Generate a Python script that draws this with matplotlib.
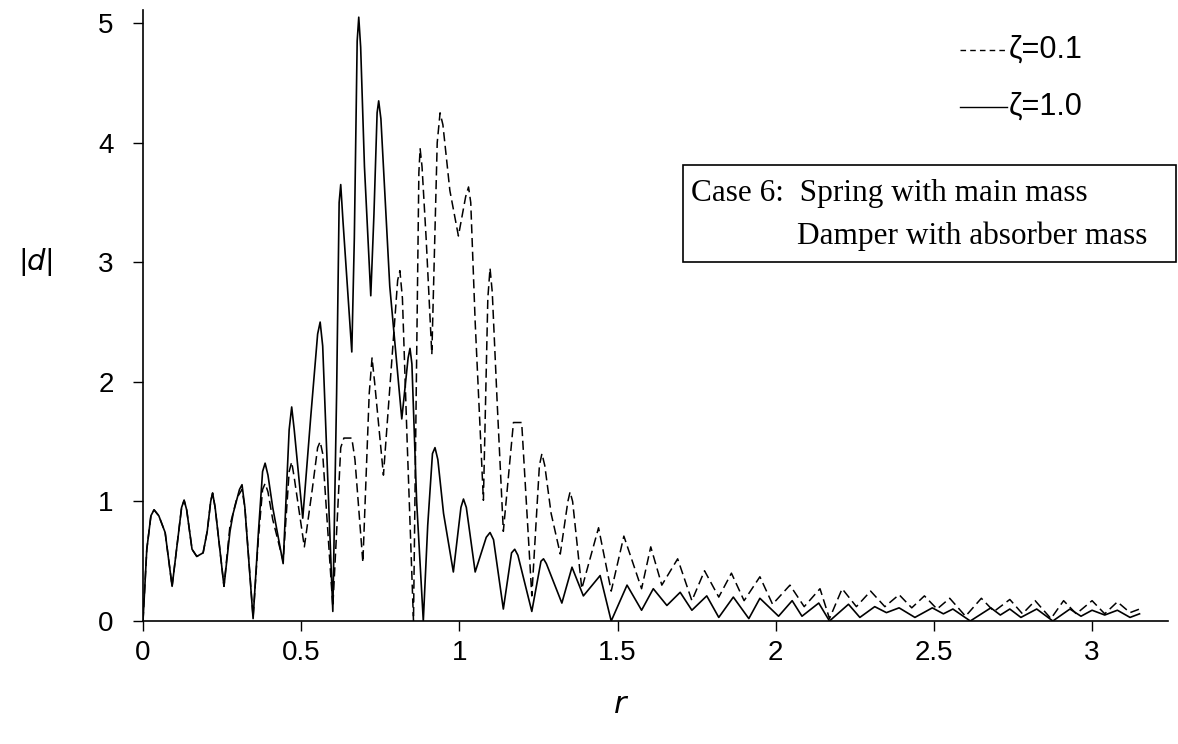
import matplotlib
matplotlib.use("Agg")
import matplotlib.pyplot as plt
from matplotlib.patches import Rectangle
from matplotlib.lines import Line2D

# zeta = 1.0 (solid)
r_z10 = [0.0, 0.012, 0.025, 0.035, 0.05, 0.07, 0.092, 0.113, 0.122, 0.13, 0.138, 0.155,
         0.17, 0.19, 0.203, 0.214, 0.22, 0.228, 0.256, 0.275, 0.285, 0.305, 0.313, 0.322,
         0.348, 0.365, 0.378, 0.386, 0.395, 0.41, 0.443, 0.462, 0.47, 0.478, 0.505, 0.53,
         0.552, 0.56, 0.568, 0.60, 0.612, 0.62, 0.625, 0.632, 0.66, 0.668, 0.677, 0.682,
         0.688, 0.70, 0.72, 0.73, 0.74, 0.745, 0.752, 0.78, 0.818, 0.838, 0.844, 0.85,
         0.865, 0.886, 0.9, 0.915, 0.923, 0.932, 0.95, 0.981, 1.005, 1.013, 1.022, 1.05,
         1.085, 1.097, 1.108, 1.139, 1.165, 1.175, 1.185, 1.229, 1.258, 1.266, 1.275, 1.324,
         1.356, 1.392, 1.445, 1.48, 1.53, 1.576, 1.613, 1.656, 1.698, 1.735, 1.782, 1.82,
         1.866, 1.915, 1.95, 2.009, 2.052, 2.083, 2.136, 2.17, 2.23, 2.266, 2.313, 2.35,
         2.39, 2.44, 2.495, 2.53, 2.56, 2.615, 2.68, 2.71, 2.74, 2.775, 2.825, 2.876,
         2.93, 2.965, 3.0, 3.04, 3.08, 3.12, 3.15]
d_z10 = [0.0, 0.6, 0.88, 0.93, 0.88, 0.74, 0.29, 0.75, 0.95, 1.01, 0.93, 0.6,
         0.54, 0.57, 0.75, 1.0, 1.07, 0.95, 0.29, 0.75, 0.9, 1.1, 1.14, 0.95,
         0.02, 0.75, 1.25, 1.32, 1.22, 0.95, 0.48, 1.6, 1.79, 1.6, 0.86, 1.7,
         2.4, 2.5, 2.3, 0.08, 1.9, 3.5, 3.65, 3.35, 2.25, 3.2, 4.85, 5.05,
         4.8, 3.8, 2.72, 3.4, 4.25, 4.35, 4.2, 2.8, 1.69, 2.2, 2.28, 2.15,
         1.0, 0.0, 0.8, 1.4, 1.45, 1.35, 0.9, 0.41, 0.95, 1.02, 0.95, 0.41,
         0.7, 0.74, 0.68, 0.1, 0.57, 0.6, 0.55, 0.08, 0.5, 0.52, 0.48, 0.15,
         0.45, 0.21, 0.38, 0.0, 0.3, 0.09, 0.27, 0.13, 0.24, 0.09, 0.21, 0.03,
         0.2, 0.02, 0.19, 0.04, 0.17, 0.04, 0.15, 0.0, 0.14, 0.03, 0.12, 0.07,
         0.11, 0.03, 0.11, 0.06, 0.1, 0.0, 0.11, 0.05, 0.1, 0.03, 0.1, 0.0,
         0.1, 0.04, 0.09, 0.05, 0.09, 0.03, 0.06]

# zeta = 0.1 (dashed)
r_z01 = [0.0, 0.012, 0.025, 0.035, 0.05, 0.07, 0.092, 0.113, 0.122, 0.13, 0.138, 0.155,
         0.17, 0.19, 0.203, 0.214, 0.22, 0.228, 0.256, 0.275, 0.297, 0.313, 0.322, 0.348,
         0.365, 0.378, 0.386, 0.395, 0.41, 0.443, 0.462, 0.47, 0.478, 0.51, 0.535, 0.552,
         0.56, 0.568, 0.60, 0.615, 0.625, 0.635, 0.66, 0.67, 0.695, 0.715, 0.724, 0.732,
         0.76, 0.79, 0.805, 0.812, 0.82, 0.835, 0.855, 0.865, 0.872, 0.876, 0.882, 0.895,
         0.913, 0.93, 0.939, 0.948, 0.97, 0.997, 1.02, 1.029, 1.036, 1.05, 1.076, 1.09,
         1.097, 1.104, 1.12, 1.139, 1.171, 1.197, 1.229, 1.253, 1.261, 1.27, 1.29, 1.319,
         1.343, 1.35, 1.358, 1.387, 1.44, 1.48, 1.52, 1.576, 1.605, 1.64, 1.69, 1.735,
         1.775, 1.82, 1.86, 1.9, 1.95, 1.99, 2.045, 2.09, 2.14, 2.17, 2.21, 2.255,
         2.30, 2.345, 2.39, 2.43, 2.47, 2.51, 2.55, 2.6, 2.65, 2.69, 2.74, 2.78,
         2.82, 2.87, 2.91, 2.95, 3.0, 3.04, 3.08, 3.12, 3.15]
d_z01 = [0.0, 0.6, 0.88, 0.93, 0.88, 0.74, 0.29, 0.75, 0.95, 1.01, 0.93, 0.6,
         0.54, 0.57, 0.75, 1.0, 1.07, 0.95, 0.29, 0.8, 1.03, 1.1, 0.95, 0.03,
         0.7, 1.1, 1.15, 1.08, 0.85, 0.5, 1.25, 1.33, 1.2, 0.62, 1.1, 1.45,
         1.5, 1.4, 0.12, 0.9, 1.45, 1.53, 1.53, 1.35, 0.49, 1.9, 2.2, 2.0,
         1.22, 2.3, 2.85, 2.93, 2.7, 1.5, 0.0, 2.2, 3.75, 3.95, 3.8, 3.2,
         2.23, 4.0, 4.25, 4.15, 3.6, 3.22, 3.55, 3.63, 3.5, 2.5, 1.01, 2.7,
         2.95, 2.75, 1.8, 0.75, 1.66, 1.66, 0.21, 1.3, 1.4, 1.3, 0.9, 0.56,
         1.0, 1.08, 1.0, 0.27, 0.78, 0.25, 0.71, 0.27, 0.62, 0.3, 0.52, 0.17,
         0.42, 0.2, 0.4, 0.17, 0.37, 0.14, 0.3, 0.12, 0.27, 0.02, 0.27, 0.12,
         0.25, 0.12, 0.22, 0.11, 0.21, 0.1, 0.19, 0.04, 0.19, 0.08, 0.18, 0.06,
         0.17, 0.02, 0.17, 0.06, 0.17, 0.06, 0.16, 0.07, 0.1]

x_ticks = [0, 0.5, 1, 1.5, 2, 2.5, 3]
x_tick_labels = ["0", "0.5", "1", "1.5", "2", "2.5", "3"]
y_ticks = [0, 1, 2, 3, 4, 5]
legend_labels = ["\u03b6=0.1", "\u03b6=1.0"]

W, H = 1178, 744
fig = plt.figure(figsize=(W / 100, H / 100), dpi=100)
ax = fig.add_axes([143 / W, 1 - 621 / H, (1168 - 143) / W, (621 - 10) / H])

ax.plot(r_z01, d_z01, color="black", lw=1.1, ls=(0, (6, 3)))
ax.plot(r_z10, d_z10, color="black", lw=1.2)

ax.set_xlim(0, 3.24)
ax.set_ylim(0, 5.11)
for s in ["top", "right"]:
    ax.spines[s].set_visible(False)
ax.spines["left"].set_linewidth(1.2)
ax.spines["bottom"].set_linewidth(1.2)

ax.set_xticks(x_ticks)
ax.set_xticklabels(x_tick_labels)
ax.set_yticks(y_ticks)
ax.tick_params(axis="x", direction="out", length=7, width=1, pad=7,
               labelsize=20, labelfontfamily="Liberation Sans")
ax.tick_params(axis="y", direction="out", length=7, width=1, pad=14,
               labelsize=20, labelfontfamily="Liberation Sans")

fig.text(36 / W, 1 - 262 / H, "|$\\mathit{d}$|", fontsize=21, family="Liberation Sans",
         ha="center", va="center")
fig.text(621 / W, 1 - 705 / H, "$\\mathit{r}$", fontsize=22, family="Liberation Sans",
         ha="center", va="center")

# legend drawn by hand
styles = [(0, (4, 3)), "-"]
for i, (lab, st) in enumerate(zip(legend_labels, styles)):
    yy = 1 - (50 + 57 * i) / H
    fig.add_artist(Line2D([960 / W, 1007 / W], [yy, yy], color="black", lw=1, ls=st))
    fig.text(1009 / W, yy, lab, fontsize=22, family="Liberation Sans",
             ha="left", va="center")

# annotation box
fig.add_artist(Rectangle((683 / W, 1 - 262 / H), (1176 - 683) / W, (262 - 165) / H,
                         fill=False, edgecolor="black", lw=1.2,
                         transform=fig.transFigure))
fig.text(691 / W, 1 - 194 / H, "Case 6:  Spring with main mass", fontsize=22.5,
         family="Liberation Serif", ha="left", va="center")
fig.text(797 / W, 1 - 236 / H, "Damper with absorber mass", fontsize=22.5,
         family="Liberation Serif", ha="left", va="center")

fig.savefig("out.png", dpi=100)
